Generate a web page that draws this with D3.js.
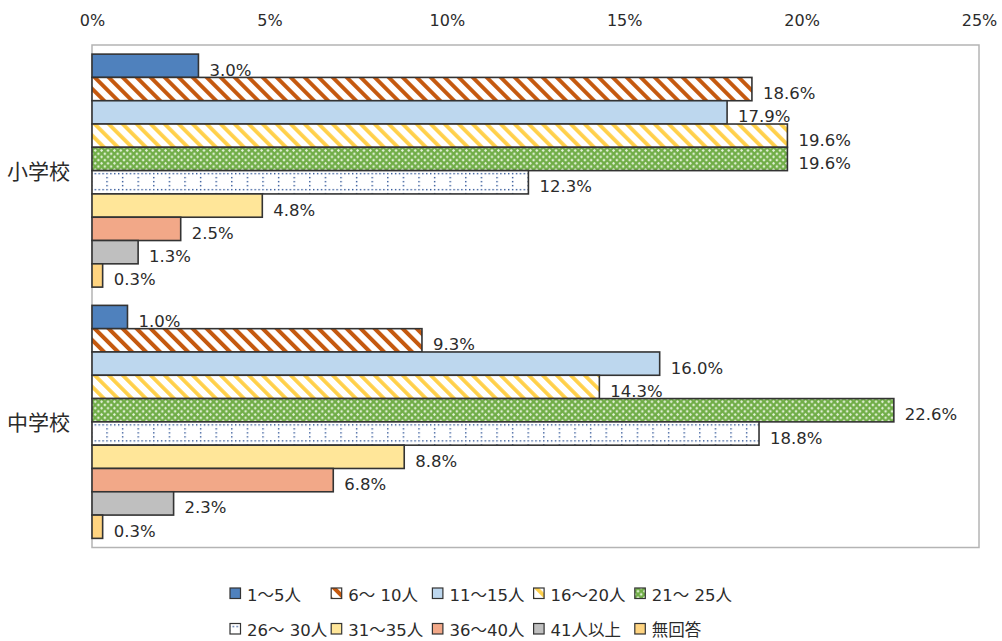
<!DOCTYPE html>
<html>
<head>
<meta charset="utf-8">
<script src="https://cdn.jsdelivr.net/npm/d3@7"></script>
<style>
  html, body { margin: 0; padding: 0; background: #fff; }
  svg { display: block; font-family: "DejaVu Sans", "Noto Sans CJK JP", sans-serif; }
</style>
</head>
<body>
<svg id="chart" width="1002" height="641"></svg>
<script>
// School levels (rows) and class-size groups (series)
const categories = ["小学校", "中学校"];
const seriesNames = ["1～5人", "6～ 10人", "11～15人", "16～20人", "21～ 25人",
                     "26～ 30人", "31～35人", "36～40人", "41人以上", "無回答"];
// Percentages per series, ordered as categories
const seriesValues = [
  [3.0, 1.0],
  [18.6, 9.3],
  [17.9, 16.0],
  [19.6, 14.3],
  [19.6, 22.6],
  [12.3, 18.8],
  [4.8, 8.8],
  [2.5, 6.8],
  [1.3, 2.3],
  [0.3, 0.3]
];
const tickValues = [0, 5, 10, 15, 20, 25];
const tickLabels = ["0%", "5%", "10%", "15%", "20%", "25%"];

const fills = ["#4f81bd", "url(#diag-orange)", "#bdd7ee", "url(#diag-yellow)", "url(#trellis-green)",
               "url(#dot-grid)", "#ffe699", "#f2a888", "#bfbfbf", "#ffd480"];

const textColor = "#2b2b2b";
const svg = d3.select("#chart");
const plot = { left: 92, right: 979, top: 45, bottom: 547.5 };

// ---- fill patterns ----
const defs = svg.append("defs");

function diagonal(id, color, period, stripe) {
  const p = defs.append("pattern").attr("id", id)
    .attr("patternUnits", "userSpaceOnUse")
    .attr("width", period).attr("height", period)
    .attr("patternTransform", "rotate(-45)");
  p.append("rect").attr("width", period).attr("height", period).attr("fill", "#fff");
  p.append("rect").attr("width", stripe).attr("height", period).attr("fill", color);
}
diagonal("diag-orange", "#c5590f", 9.9, 4.0);
diagonal("diag-yellow", "#ffd04a", 9.9, 3.8);

const tr = defs.append("pattern").attr("id", "trellis-green")
  .attr("patternUnits", "userSpaceOnUse").attr("width", 6.4).attr("height", 6.4);
tr.append("rect").attr("width", 6.4).attr("height", 6.4).attr("fill", "#70ad47");
[[0, 0], [6.4, 0], [0, 6.4], [6.4, 6.4], [3.2, 3.2]].forEach(([cx, cy]) => {
  tr.append("rect").attr("x", cx - 1.1).attr("y", cy - 1.1).attr("width", 2.2).attr("height", 2.2)
    .attr("fill", "#e4f2d9").attr("transform", `rotate(45 ${cx} ${cy})`);
});

const dg = defs.append("pattern").attr("id", "dot-grid")
  .attr("patternUnits", "userSpaceOnUse").attr("x", 14.3).attr("y", 2.3)
  .attr("width", 15.6).attr("height", 16);
dg.append("rect").attr("width", 15.6).attr("height", 16).attr("fill", "#fff");
d3.range(0, 15.6, 3.9).forEach(dx => {
  dg.append("rect").attr("x", dx).attr("y", 0).attr("width", 1.4).attr("height", 1.4).attr("fill", "#2f5597");
});
d3.range(4, 16, 4).forEach(dy => {
  dg.append("rect").attr("x", 0).attr("y", dy).attr("width", 1.4).attr("height", 1.4).attr("fill", "#2f5597");
});

// ---- scales ----
const x = d3.scaleLinear().domain([0, 25]).range([plot.left, plot.right]);
const y0 = d3.scaleBand().domain(categories).range([plot.top, plot.bottom])
  .paddingInner(0.0726).paddingOuter(0.0363);
const y1 = d3.scaleBand().domain(d3.range(seriesNames.length)).range([0, y0.bandwidth()]).padding(0);

// ---- plot frame ----
svg.append("rect")
  .attr("x", plot.left).attr("y", plot.top)
  .attr("width", plot.right - plot.left).attr("height", plot.bottom - plot.top)
  .attr("fill", "none").attr("stroke", "#b4b4b4").attr("stroke-width", 1.5);

// ---- top axis ----
const axis = svg.append("g")
  .attr("transform", `translate(0,${plot.top})`)
  .call(d3.axisTop(x).tickValues(tickValues).tickSize(0).tickPadding(19)
    .tickFormat((d, i) => tickLabels[i]));
axis.select(".domain").remove();
axis.selectAll("text")
  .attr("font-family", "DejaVu Sans, Noto Sans CJK JP, sans-serif")
  .attr("font-size", 16).attr("fill", textColor);

// ---- bars ----
const bars = [];
categories.forEach((cat, ci) => {
  seriesNames.forEach((s, si) => {
    bars.push({ cat, si, value: seriesValues[si][ci] });
  });
});

const barG = svg.append("g").selectAll("g").data(bars).join("g")
  .attr("transform", d => `translate(${x(0)},${y0(d.cat) + y1(d.si)})`);

barG.append("rect")
  .attr("width", d => x(d.value) - x(0))
  .attr("height", y1.bandwidth())
  .attr("fill", d => fills[d.si])
  .attr("stroke", "#333").attr("stroke-width", 1.6);

barG.append("text")
  .attr("x", d => x(d.value) - x(0) + 11)
  .attr("y", y1.bandwidth() / 2 + 10)
  .attr("font-size", 16.5).attr("fill", textColor)
  .text(d => d.value.toFixed(1) + "%");

// ---- category labels ----
svg.append("g").selectAll("text").data(categories).join("text")
  .attr("x", 70)
  .attr("y", d => y0(d) + y0.bandwidth() / 2 + 8)
  .attr("text-anchor", "end")
  .attr("font-family", "Noto Sans CJK JP, sans-serif")
  .attr("font-size", 21).attr("fill", textColor)
  .text(d => d);

// ---- legend ----
const legend = svg.append("g");
const legItems = legend.selectAll("g").data(seriesNames).join("g")
  .attr("transform", (d, i) => `translate(${230 + (i % 5) * 101.2},${588 + Math.floor(i / 5) * 35.5})`);
legItems.append("rect")
  .attr("width", 10.5).attr("height", 10.5)
  .attr("fill", (d, i) => fills[i])
  .attr("stroke", "#333").attr("stroke-width", 1.2);
legItems.append("text")
  .attr("x", 17).attr("y", 12.5)
  .attr("font-size", 16.5).attr("fill", textColor)
  .text(d => d);
</script>
</body>
</html>
